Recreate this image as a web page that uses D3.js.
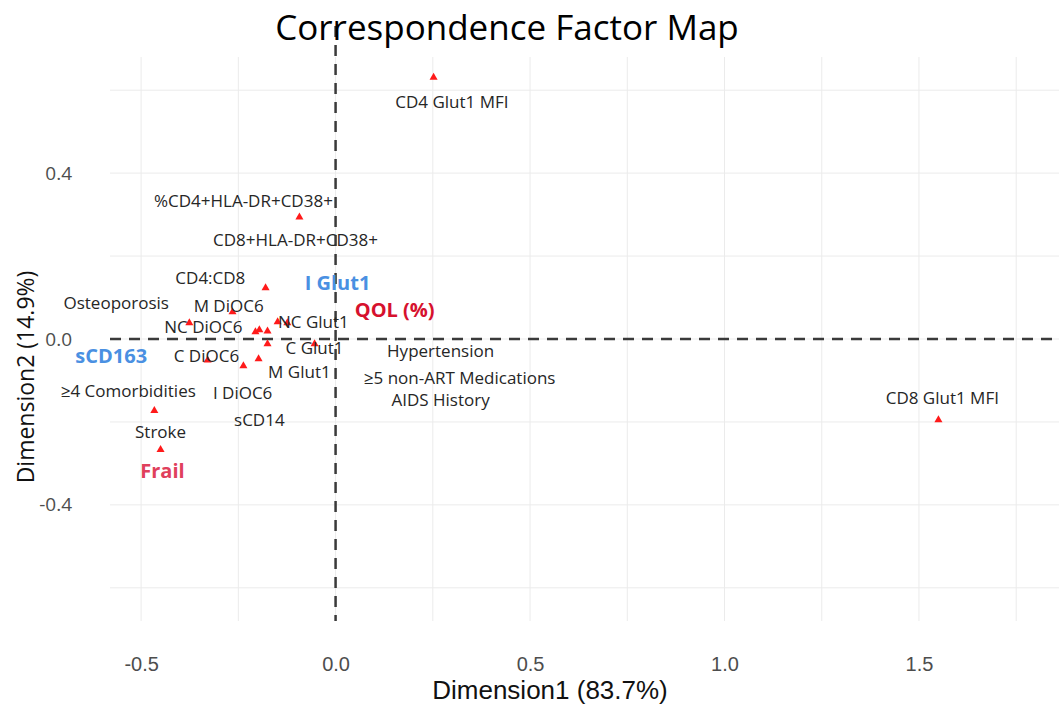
<!DOCTYPE html>
<html><head><meta charset="utf-8">
<script src="https://cdn.jsdelivr.net/npm/d3@7"></script>
<style>body{margin:0;background:#fff}</style>
</head><body>
<svg id="chart" width="1059" height="705"></svg>
<script>
// Point coordinates (Dimension1, Dimension2)
const pointX = [0.252, -0.093, -0.180, -0.265, -0.376, -0.206, -0.196, -0.175, -0.149, -0.124, -0.175, -0.054, -0.329, -0.198, -0.237, -0.466, -0.450, 1.550];
const pointY = [0.631, 0.294, 0.123, 0.065, 0.039, 0.017, 0.022, 0.019, 0.041, 0.039, -0.012, -0.012, -0.051, -0.048, -0.065, -0.173, -0.267, -0.195];

// Label texts and their (repelled) positions in data units
const labelText = ["CD4 Glut1 MFI", "%CD4+HLA-DR+CD38+", "CD8+HLA-DR+CD38+", "CD4:CD8", "I Glut1", "Osteoporosis", "M DiOC6", "QOL (%)", "NC DiOC6", "NC Glut1", "sCD163", "C DiOC6", "C Glut1", "Hypertension", "M Glut1", "≥5  non-ART Medications", "≥4  Comorbidities", "I DiOC6", "AIDS History", "sCD14", "Stroke", "Frail", "CD8 Glut1 MFI"];
const labelX = [0.299, -0.237, -0.103, -0.322, 0.005, -0.564, -0.275, 0.152, -0.340, -0.057, -0.577, -0.332, -0.054, 0.270, -0.093, 0.319, -0.533, -0.239, 0.270, -0.196, -0.450, -0.445, 1.560];
const labelY = [0.573, 0.335, 0.241, 0.149, 0.137, 0.089, 0.080, 0.072, 0.029, 0.043, -0.039, -0.039, -0.021, -0.027, -0.078, -0.094, -0.123, -0.128, -0.147, -0.195, -0.222, -0.316, -0.142];
const labelKind = ["n","n","n","n","blue","n","n","red","n","n","blue","n","n","n","n","n","n","n","n","n","n","pink","n"];

const xTicks = [-0.5, 0, 0.5, 1.0, 1.5];
const yTicks = [-0.4, 0, 0.4];
const xMinor = [-0.5, -0.25, 0, 0.25, 0.5, 0.75, 1.0, 1.25, 1.5, 1.75];
const yMinor = [-0.6, -0.4, -0.2, 0, 0.2, 0.4, 0.6];

const titleText = "Correspondence Factor Map";
const xLabel = "Dimension1 (83.7%)";
const yLabel = "Dimension2 (14.9%)";

const svg = d3.select("#chart");
const L = 110, R = 1059, T = 57, B = 621;
const x = d3.scaleLinear().domain([-0.58, 1.86]).range([L, R]);
const y = d3.scaleLinear().domain([-0.68, 0.68]).range([B, T]);
const fmt = d => d3.format(".1f")(d).replace("−", "-");

// grid
svg.append("g").selectAll("line").data(xMinor).join("line")
  .attr("x1", d => x(d)).attr("x2", d => x(d)).attr("y1", T).attr("y2", B)
  .attr("stroke", "#ebebeb").attr("stroke-width", 1);
svg.append("g").selectAll("line").data(yMinor).join("line")
  .attr("y1", d => y(d)).attr("y2", d => y(d)).attr("x1", L).attr("x2", R)
  .attr("stroke", "#ebebeb").attr("stroke-width", 1);

// axes (text only)
const xAxis = svg.append("g").attr("transform", `translate(0,${B})`)
  .call(d3.axisBottom(x).tickValues(xTicks).tickFormat(fmt).tickSize(0).tickPadding(36));
xAxis.select(".domain").remove();
xAxis.selectAll("text").attr("font-family", "'Liberation Sans Narrow', 'Arial Narrow', sans-serif")
  .attr("font-size", 20).attr("fill", "#4d4d4d");

const yAxis = svg.append("g").attr("transform", `translate(${L},0)`)
  .call(d3.axisLeft(y).tickValues(yTicks).tickFormat(fmt).tickSize(0).tickPadding(38));
yAxis.select(".domain").remove();
yAxis.selectAll("text").attr("font-family", "'Open Sans', sans-serif")
  .attr("font-size", 19).attr("fill", "#4d4d4d");

// dashed reference lines
svg.append("line").attr("x1", L).attr("x2", R).attr("y1", y(0)).attr("y2", y(0))
  .attr("stroke", "#3a3a3a").attr("stroke-width", 2.5).attr("stroke-dasharray", "11,8");
svg.append("line").attr("x1", x(0)).attr("x2", x(0)).attr("y1", 26).attr("y2", B)
  .attr("stroke", "#3a3a3a").attr("stroke-width", 2.5).attr("stroke-dasharray", "11,8");

// points
svg.append("g").selectAll("path").data(pointX.map((d, i) => [d, pointY[i]])).join("path")
  .attr("d", d3.symbol(d3.symbolTriangle, 28))
  .attr("transform", d => `translate(${x(d[0])},${y(d[1])})`)
  .attr("fill", "#ff1a1a");

// labels
const colorMap = {n: "#262626", blue: "#4a90e2", red: "#d6112e", pink: "#e0405c"};
svg.append("g").selectAll("text").data(labelText.map((t, i) => ({t, x: labelX[i], y: labelY[i], k: labelKind[i]}))).join("text")
  .attr("x", d => x(d.x)).attr("y", d => y(d.y))
  .attr("text-anchor", "middle").attr("dominant-baseline", "central")
  .attr("font-family", "'Open Sans', sans-serif")
  .attr("font-size", d => d.k === "n" ? 17 : 20)
  .attr("font-weight", d => d.k === "n" ? 400 : 700)
  .attr("fill", d => colorMap[d.k])
  .text(d => d.t);

// title and axis titles
svg.append("text").attr("x", 507).attr("y", 26).attr("text-anchor", "middle").attr("dominant-baseline", "central")
  .attr("font-family", "'Open Sans', sans-serif").attr("font-size", 35).attr("fill", "#000").text(titleText);
svg.append("text").attr("x", 550).attr("y", 690).attr("text-anchor", "middle").attr("dominant-baseline", "central")
  .attr("font-family", "'Liberation Sans Narrow', 'Arial Narrow', sans-serif").attr("font-size", 26).attr("fill", "#111").text(xLabel);
svg.append("text").attr("transform", "translate(25,377) rotate(-90)").attr("text-anchor", "middle").attr("dominant-baseline", "central")
  .attr("font-family", "'Open Sans', sans-serif").attr("font-size", 23).attr("fill", "#111").text(yLabel);
</script>
</body></html>
